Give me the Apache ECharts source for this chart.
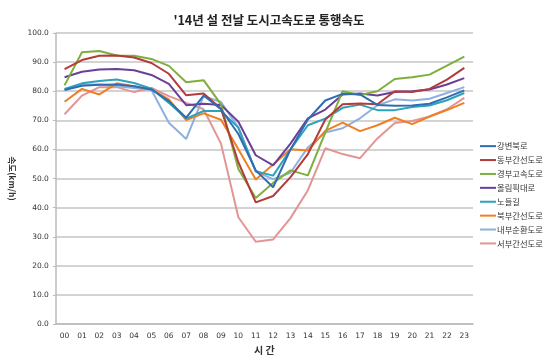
<!DOCTYPE html>
<html><head><meta charset="utf-8">
<script src="https://cdn.jsdelivr.net/npm/echarts@6/dist/echarts.min.js"></script>
<style>html,body{margin:0;padding:0;background:#fff}#c{width:550px;height:360px}</style>
</head><body><div id="c"></div>
<script>
const hours = ['00','01','02','03','04','05','06','07','08','09','10','11','12','13','14','15','16','17','18','19','20','21','22','23'];
const roadNames = ['강변북로','동부간선도로','경부고속도로','올림픽대로','노들길','북부간선도로','내부순환도로','서부간선도로'];
const gangbyeon = [80.4,81.9,82.2,82.3,81.7,80.6,76.6,70.9,78.5,73.8,65.3,52.8,47.0,60.0,70.3,76.8,79.1,78.9,75.3,75.0,75.1,75.7,77.9,80.3];
const dongbu = [87.6,90.7,92.2,92.3,91.6,89.7,86.0,78.6,79.2,74.0,55.6,41.8,44.0,50.5,58.4,70.3,75.5,75.8,75.5,80.0,79.7,80.8,84.0,88.0];
const gyeongbu = [82.0,93.4,93.8,92.3,92.2,91.1,88.7,83.1,83.8,75.5,53.3,43.3,48.5,52.8,51.1,65.8,80.0,78.7,80.0,84.2,84.8,85.7,88.8,91.9];
const olympic = [84.8,86.7,87.5,87.6,87.2,85.6,82.5,75.2,75.7,75.3,69.5,58.0,54.5,62.0,70.7,73.7,78.9,79.2,78.5,79.7,80.0,80.6,82.3,84.5];
const nodeul = [80.8,82.7,83.5,84.0,82.8,80.9,76.0,70.6,73.2,73.2,67.5,52.5,51.0,60.0,68.3,70.6,74.3,75.4,73.5,73.5,74.6,75.1,76.9,79.4];
const bukbu = [76.4,80.8,78.9,82.7,81.7,80.6,77.2,70.1,72.4,70.2,60.1,49.7,54.8,60.1,59.6,66.4,69.2,66.3,68.3,70.9,68.7,71.3,73.5,76.0];
const naebu = [80.6,82.3,82.3,81.7,81.1,80.4,69.2,63.6,78.3,76.3,67.5,52.4,49.8,52.0,60.7,65.8,67.3,70.7,75.2,77.2,76.8,77.4,79.4,81.4];
const seobu = [72.1,78.5,81.4,81.4,79.7,81.1,78.3,76.0,73.8,62.0,36.7,28.3,29.1,36.4,46.0,60.4,58.4,57.0,63.8,69.1,69.8,71.3,73.8,77.7];
const seriesData = [gangbyeon,dongbu,gyeongbu,olympic,nodeul,bukbu,naebu,seobu];
const colors = ['#2f6db2','#b23b3b','#7fae3c','#6a3f98','#2ea2ba','#f07f22','#8fb0de','#e39494'];

const chart = echarts.init(document.getElementById('c'));
chart.setOption({
  animation:false,
  color:colors,
  title:{text:"'14년 설 전날 도시고속도로 통행속도",left:264,top:9,textAlign:'center',
    textStyle:{fontFamily:'Noto Sans CJK KR',fontSize:12.5,fontWeight:'bold',color:'#222'}},
  legend:{orient:'vertical',left:480,top:142,padding:0,itemWidth:16,itemHeight:2,itemGap:5.6,
    icon:'rect',textStyle:{fontFamily:'Noto Sans CJK KR',fontSize:8.3,color:'#333',padding:[0,0,0,-4]},
    data:roadNames},
  grid:{left:52,right:77,top:33,bottom:33.3,containLabel:false},
  xAxis:{type:'category',data:hours,boundaryGap:true,
    name:'시 간',nameLocation:'middle',nameGap:20,
    nameTextStyle:{fontFamily:'Noto Sans CJK KR',fontSize:10,fontWeight:'bold',color:'#333'},
    axisLine:{lineStyle:{color:'#bbb',width:1.5}},axisTick:{show:false},
    axisLabel:{fontFamily:'DejaVu Sans',fontSize:7.5,color:'#333',margin:8}},
  yAxis:{type:'value',min:0,max:100,interval:10,
    name:'속도(km/h)',nameLocation:'middle',nameRotate:-90,nameGap:29,
    nameTextStyle:{fontFamily:'Noto Sans CJK KR',fontSize:8.5,fontWeight:'bold',color:'#333'},
    axisLine:{show:true,lineStyle:{color:'#bbb',width:1.5}},
    axisTick:{show:true,length:3,lineStyle:{color:'#bbb'}},
    splitLine:{lineStyle:{color:'#c4c4c4',width:1.5}},
    axisLabel:{formatter:v=>v.toFixed(1),fontFamily:'DejaVu Sans',fontSize:7.5,color:'#333',margin:7}},
  series:roadNames.map((n,i)=>({name:n,type:'line',data:seriesData[i],symbol:'none',
    lineStyle:{width:2},z:10-i}))
});
</script></body></html>
